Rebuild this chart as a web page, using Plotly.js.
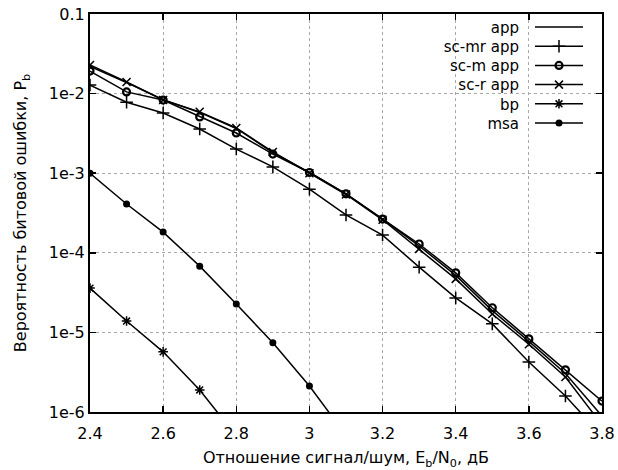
<!DOCTYPE html>
<html><head><meta charset="utf-8">
<script src="https://cdn.plot.ly/plotly-3.0.1.min.js"></script>
<style>body{margin:0;padding:0;background:#fff}</style>
</head><body>
<div id="chart" style="width:618px;height:470px"></div>
<script>
const snr = [2.4, 2.5, 2.6, 2.7, 2.8, 2.9, 3.0, 3.1, 3.2, 3.3, 3.4, 3.5, 3.6, 3.7, 3.8];
const snrMsa = [2.4, 2.5, 2.6, 2.7, 2.8, 2.9, 3.0, 3.1];
const snrBp = [2.4, 2.5, 2.6, 2.7, 2.8];
const app   = [2.2e-2, 1.38e-2, 8.4e-3, 5.8e-3, 3.65e-3, 1.82e-3, 1.02e-3, 5.5e-4, 2.65e-4, 1.22e-4, 5.2e-5, 1.88e-5, 7.7e-6, 3.05e-6, 8.9e-7];
const scMr  = [1.28e-2, 7.8e-3, 5.7e-3, 3.59e-3, 2.01e-3, 1.2e-3, 6.3e-4, 2.99e-4, 1.67e-4, 6.6e-5, 2.71e-5, 1.28e-5, 4.25e-6, 1.59e-6, 5e-7];
const scM   = [1.92e-2, 1.05e-2, 8.3e-3, 5.1e-3, 3.2e-3, 1.74e-3, 1.02e-3, 5.5e-4, 2.65e-4, 1.29e-4, 5.6e-5, 2.04e-5, 8.3e-6, 3.39e-6, 1.37e-6];
const scR   = [2.29e-2, 1.4e-2, 8.3e-3, 5.9e-3, 3.7e-3, 1.85e-3, 1.0e-3, 5.4e-4, 2.6e-4, 1.12e-4, 4.7e-5, 1.7e-5, 7.1e-6, 2.75e-6, 6.9e-7];
const bp    = [3.6e-5, 1.39e-5, 5.7e-6, 1.89e-6, 5.0e-7];
const msa   = [1e-3, 4.1e-4, 1.82e-4, 6.8e-5, 2.27e-5, 7.4e-6, 2.12e-6, 5.1e-7];
const seriesNames = ['app', 'sc-mr app', 'sc-m app', 'sc-r app', 'bp', 'msa'];
const yTickVals = [1e-6, 1e-5, 1e-4, 1e-3, 1e-2, 1e-1];
const yTickText = ['1e-6', '1e-5', '1e-4', '1e-3', '1e-2', '0.1'];

const FONT = 'DejaVu Sans, sans-serif';
const line = {color: '#000', width: 1.5};
function tr(name, x, y, mode, marker) {
  return {x: x, y: y, name: name, type: 'scatter', mode: mode, line: line,
          marker: Object.assign({color: '#000'}, marker || {}), cliponaxis: true};
}
const traces = [
  tr(seriesNames[0], snr, app, 'lines'),
  tr(seriesNames[1], snr, scMr, 'lines+markers', {symbol: 'cross-thin-open', size: 9, line: {width: 1.5, color: '#000'}}),
  tr(seriesNames[2], snr, scM, 'lines+markers', {symbol: 'circle-open', size: 7, line: {width: 2.2, color: '#000'}}),
  tr(seriesNames[3], snr, scR, 'lines+markers', {symbol: 'x-thin-open', size: 8, line: {width: 1.5, color: '#000'}}),
  tr(seriesNames[4], snrBp, bp, 'lines+markers', {symbol: 'asterisk-open', size: 8, line: {width: 1.5, color: '#000'}}),
  tr(seriesNames[5], snrMsa, msa, 'lines+markers', {symbol: 'circle', size: 7})
];

const layout = {
  width: 618, height: 470,
  margin: {l: 90, r: 16, t: 14, b: 58},
  paper_bgcolor: '#fff', plot_bgcolor: '#fff',
  font: {family: FONT, size: 16, color: '#000'},
  showlegend: true,
  legend: {x: 0.5, xanchor: 'left', y: 1, yanchor: 'top', bgcolor: 'rgba(0,0,0,0)',
           font: {family: FONT, size: 15, color: '#000'}, tracegroupgap: 0},
  xaxis: {range: [2.4, 3.8], dtick: 0.2, tick0: 2.4, showline: true, linecolor: '#000', linewidth: 2,
          mirror: 'ticks', ticks: 'inside', ticklen: 6, tickcolor: '#000', tickwidth: 1.5,
          showgrid: true, gridcolor: '#a8a8a8', griddash: 'dot', gridwidth: 1, zeroline: false,
          tickfont: {family: FONT, size: 16}, ticklabelstandoff: 6,
          title: {text: 'Отношение сигнал/шум, E<sub>b</sub>/N<sub>0</sub>, дБ', font: {family: FONT, size: 16}, standoff: 10}},
  yaxis: {type: 'log', range: [-6, -1], tickvals: yTickVals, ticktext: yTickText,
          showline: true, linecolor: '#000', linewidth: 2,
          mirror: 'ticks', ticks: 'inside', ticklen: 6, tickcolor: '#000', tickwidth: 1.5,
          showgrid: true, gridcolor: '#a8a8a8', griddash: 'dot', gridwidth: 1, zeroline: false,
          tickfont: {family: FONT, size: 16},
          title: {text: 'Вероятность битовой ошибки, P<sub>b</sub>', font: {family: FONT, size: 16}, standoff: 18}},
  shapes: [{type: 'rect', xref: 'paper', yref: 'paper', x0: 0.655, x1: 0.985, y0: 0.7, y1: 0.995,
            fillcolor: '#fff', line: {width: 0}, layer: 'between'}]
};

Plotly.newPlot('chart', traces, layout, {displayModeBar: false, staticPlot: true}).then(function () {
  // Put legend labels on the left (right-aligned) and samples on the right, as in the original
  const leg = document.querySelector('.legend');
  if (!leg) return;
  leg.querySelectorAll('[clip-path]').forEach(function (e) { e.removeAttribute('clip-path'); });
  const m = /translate\(([-\d.]+)[ ,]+([-\d.]+)\)/.exec(leg.getAttribute('transform') || '');
  const L = m ? parseFloat(m[1]) : 0;
  const T = m ? parseFloat(m[2]) : 0;
  const textEnd = 519, symCenter = 559, firstRow = 27, rowStep = 19.2;
  leg.querySelectorAll('.traces').forEach(function (g, i) {
    g.setAttribute('transform', 'translate(0,' + (firstRow + i * rowStep - T) + ')');
    const t = g.querySelector('.legendtext');
    if (t) { t.setAttribute('text-anchor', 'end'); t.setAttribute('x', textEnd - L); }
    const layers = g.querySelector('.layers');
    if (layers) {
      layers.setAttribute('transform', 'translate(' + (symCenter - L - 20) + ',0)');
      layers.querySelectorAll('.legendlines path').forEach(function (p) {
        p.setAttribute('d', 'M-4,0h48');
      });
    }
  });
});
</script>
</body></html>
